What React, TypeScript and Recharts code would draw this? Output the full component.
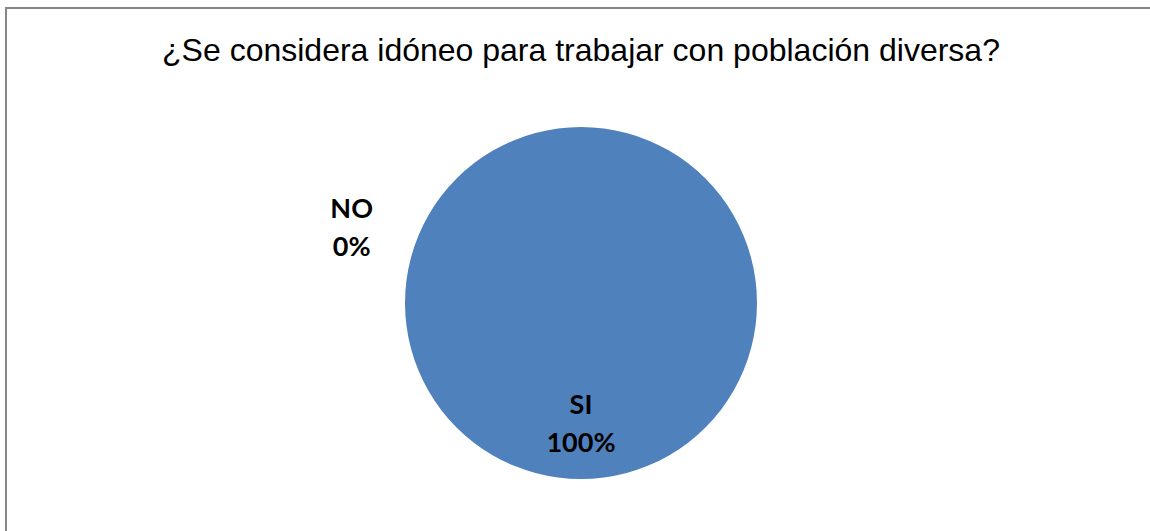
import React from "react";
import { Cell, Pie, PieChart } from "recharts";

const categories = ["SI", "NO"];
const values = [100, 0];
const percentLabels = ["100%", "0%"];

const data = categories.map((name, i) => ({
  name,
  value: values[i],
  pct: percentLabels[i],
}));

const RAD = Math.PI / 180;

function renderLabel(props: any) {
  const { cx, cy, midAngle, outerRadius, index } = props;
  const entry = data[index];
  let x: number;
  let y: number;
  if (entry.value === 0) {
    // empty slice: Excel pushes its label out to the upper left
    const a = 162 * RAD;
    x = cx + outerRadius * 1.37 * Math.cos(a);
    y = cy - outerRadius * 1.37 * Math.sin(a);
  } else {
    const r = outerRadius * 0.69;
    x = cx + r * Math.cos(-midAngle * RAD);
    y = cy + r * Math.sin(-midAngle * RAD);
  }
  return (
    <text
      x={x}
      y={y}
      textAnchor="middle"
      fill="#000000"
      fontFamily="Lato, 'Open Sans', sans-serif"
      fontWeight={700}
      fontSize={27}
    >
      <tspan x={x} dy={-10}>
        {entry.name}
      </tspan>
      <tspan x={x} dy={38}>
        {entry.pct}
      </tspan>
    </text>
  );
}

export default function App() {
  return (
    <div
      style={{
        position: "absolute",
        left: 0,
        top: 0,
        width: 1150,
        height: 531,
        overflow: "hidden",
        background: "#ffffff",
      }}
    >
      <div
        style={{
          position: "absolute",
          left: 5,
          top: 7,
          width: 1160,
          height: 540,
          border: "2px solid #868686",
          boxSizing: "border-box",
        }}
      />
      <div
        style={{
          position: "absolute",
          left: 0,
          top: 28,
          width: 1162,
          textAlign: "center",
          fontFamily: "'Liberation Sans', Arial, sans-serif",
          fontSize: 32,
          color: "#000000",
          lineHeight: "44px",
        }}
      >
        ¿Se considera idóneo para trabajar con población diversa?
      </div>
      <div style={{ position: "absolute", left: 0, top: 0 }}>
        <PieChart
          width={1150}
          height={531}
          margin={{ top: 0, right: 0, bottom: 0, left: 0 }}
        >
          <Pie
            data={data}
            dataKey="value"
            nameKey="name"
            cx={581}
            cy={303}
            outerRadius={176}
            startAngle={90}
            endAngle={-270}
            stroke="none"
            labelLine={false}
            label={renderLabel}
            isAnimationActive={false}
          >
            {data.map((d) => (
              <Cell key={d.name} fill="#4F81BD" />
            ))}
          </Pie>
        </PieChart>
      </div>
    </div>
  );
}
